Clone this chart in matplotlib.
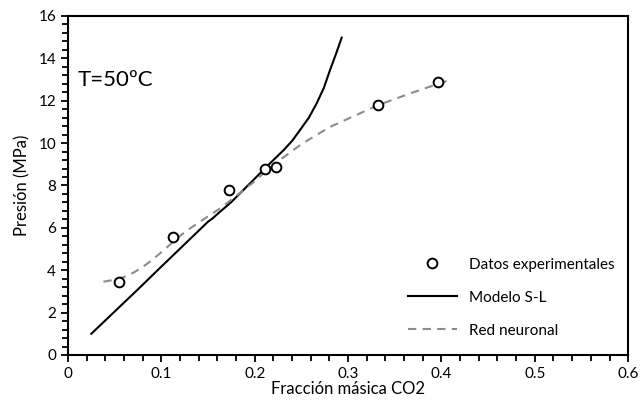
import matplotlib.pyplot as plt
from matplotlib.ticker import MultipleLocator

plt.rcParams['font.family'] = ['Lato', 'DejaVu Sans']

# experimental data
x_exp = [0.055, 0.113, 0.172, 0.211, 0.223, 0.332, 0.396]
y_exp = [3.45, 5.58, 7.8, 8.8, 8.87, 11.78, 12.87]

# Sanchez-Lacombe model
x_sl = [0.025, 0.05, 0.075, 0.1, 0.125, 0.15, 0.155, 0.16, 0.175, 0.2,
        0.213, 0.231, 0.24, 0.2486, 0.258, 0.2664, 0.274, 0.2807, 0.287, 0.2932]
y_sl = [1.0, 2.05, 3.1, 4.17, 5.23, 6.29, 6.45, 6.65, 7.22, 8.32,
        8.9, 9.67, 10.1, 10.62, 11.2, 11.88, 12.6, 13.45, 14.2, 14.98]

# neural network
x_nn = [0.038, 0.05, 0.06, 0.07, 0.08, 0.09, 0.1, 0.113, 0.125, 0.14, 0.163,
        0.18, 0.2, 0.21, 0.23, 0.25, 0.28, 0.31, 0.3325, 0.37, 0.41]
y_nn = [3.46, 3.55, 3.68, 3.88, 4.15, 4.48, 4.85, 5.35, 5.8, 6.25, 6.92,
        7.5, 8.2, 8.6, 9.3, 9.95, 10.75, 11.35, 11.8, 12.4, 13.0]

fig = plt.figure(figsize=(6.41, 4.05), dpi=100)
ax = fig.add_axes([0.106, 0.1235, 0.874, 0.837])

ax.plot(x_exp, y_exp, 'o', mfc='white', mec='black', mew=1.4, ms=7,
        label='Datos experimentales', zorder=3)
ax.plot(x_sl, y_sl, '-', color='black', lw=1.5, label='Modelo S-L')
ax.plot(x_nn, y_nn, '--', color='#8c8c8c', lw=1.5, dashes=(4, 3),
        label='Red neuronal')

ax.set_xlim(0, 0.6)
ax.set_ylim(0, 16)
ax.xaxis.set_major_locator(MultipleLocator(0.1))
ax.xaxis.set_minor_locator(MultipleLocator(0.02))
ax.yaxis.set_major_locator(MultipleLocator(2))
ax.yaxis.set_minor_locator(MultipleLocator(0.4))
ax.xaxis.set_major_formatter(plt.FuncFormatter(lambda v, p: ('%.1f' % v) if v > 1e-9 else '0'))
ax.tick_params(which='both', direction='out', width=1.3, labelsize=11, colors='black')
ax.tick_params(which='major', length=5)
ax.tick_params(which='minor', length=4)
for s in ax.spines.values():
    s.set_linewidth(1.5)

ax.set_xlabel('Fracción másica CO2', fontsize=12, labelpad=0)
ax.set_ylabel('Presión (MPa)', fontsize=12, labelpad=6)
ax.text(0.01, 13.0, 'T=50ºC', fontsize=16, va='center')

ax.legend(loc='lower right', frameon=False, fontsize=11, handlelength=3.2,
          labelspacing=1.25, bbox_to_anchor=(1.0, 0.01))

plt.savefig('out.png')
